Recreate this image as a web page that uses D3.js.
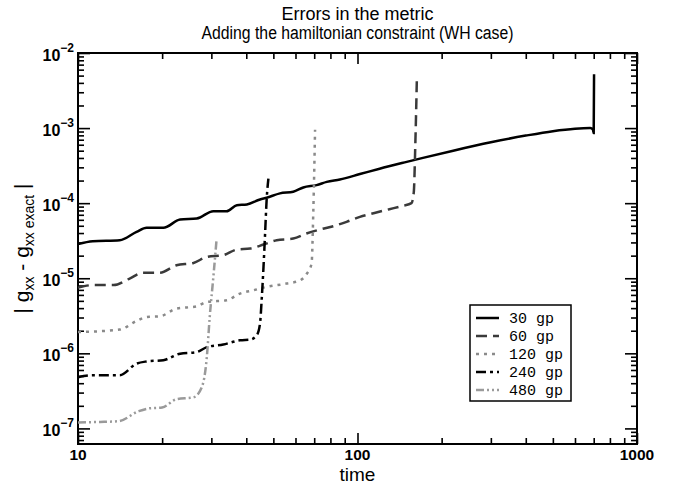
<!DOCTYPE html>
<html>
<head>
<meta charset="utf-8">
<script src="https://cdn.jsdelivr.net/npm/d3@7"></script>
<style>
  body { margin: 0; background: #fff; }
  svg { display: block; }
</style>
</head>
<body>
<svg id="chart" width="678" height="487"></svg>
<script>
// values (time, |g_xx - g_xx exact|)
var t30 = [10, 11.3, 14.1, 16.2, 17.6, 20.2, 23.2, 26.6, 30.5, 34.0, 37.0, 40.2, 44.8, 47.3, 52.8, 58.9, 64.0, 71.4, 77.6, 86.5, 102, 120, 150, 170, 220, 300, 400, 500, 600, 680, 695, 700, 702];
var e30 = [2.85e-5, 3.1e-5, 3.2e-5, 4.15e-5, 4.7e-5, 4.7e-5, 6.05e-5, 6.25e-5, 7.8e-5, 7.8e-5, 9.4e-5, 9.6e-5, 1.12e-4, 1.18e-4, 1.35e-4, 1.42e-4, 1.62e-4, 1.74e-4, 1.92e-4, 2.07e-4, 2.44e-4, 2.88e-4, 3.55e-4, 3.98e-4, 5.0e-4, 6.46e-4, 7.94e-4, 9.1e-4, 9.8e-4, 1.0e-3, 9.6e-4, 8.6e-4, 5.2e-3];

var t60 = [10, 11.3, 13.4, 15.3, 17.1, 19.6, 22.5, 25.9, 28.9, 33.1, 37.0, 41.3, 46.1, 51.4, 58.9, 65.7, 73.4, 81.9, 91.4, 102, 115, 130, 145, 156, 159, 161, 163];
var e60 = [7.5e-6, 8.1e-6, 8.1e-6, 9.9e-6, 1.18e-5, 1.18e-5, 1.49e-5, 1.6e-5, 1.92e-5, 2.03e-5, 2.41e-5, 2.49e-5, 2.81e-5, 3.21e-5, 3.38e-5, 3.94e-5, 4.46e-5, 4.93e-5, 5.64e-5, 6.57e-5, 7.4e-5, 8.3e-5, 9.2e-5, 1.0e-4, 1.4e-4, 6e-4, 4.2e-3];

var t120 = [10, 14.1, 16.2, 17.6, 19.6, 22.5, 26.6, 28.9, 34.0, 38.0, 42.5, 47.3, 55.8, 62, 65.7, 68.5, 69.5, 70.5];
var e120 = [1.92e-6, 2.07e-6, 2.7e-6, 3.05e-6, 3.11e-6, 3.94e-6, 4.23e-6, 4.83e-6, 5.09e-6, 6.25e-6, 6.92e-6, 7.66e-6, 8.5e-6, 9.3e-6, 1.13e-5, 1.57e-5, 8e-5, 9.5e-4];

var t240 = [10, 11.3, 14.1, 16.2, 17.6, 20.2, 23.2, 26.6, 28.9, 33.1, 38.0, 41.3, 43.6, 44.8, 45.4, 46.1, 46.7, 47.3, 48.0];
var e240 = [4.8e-7, 5.1e-7, 5.1e-7, 7.3e-7, 7.8e-7, 8.1e-7, 9.9e-7, 1.04e-6, 1.21e-6, 1.31e-6, 1.49e-6, 1.52e-6, 1.74e-6, 2.5e-6, 5.1e-6, 1.42e-5, 3.9e-5, 1.1e-4, 2.13e-4];

var t480 = [10, 12, 14, 16.5, 18, 20, 22.5, 25.9, 27.7, 28.9, 29.6, 30.5, 31.3];
var e480 = [1.2e-7, 1.22e-7, 1.25e-7, 1.7e-7, 1.85e-7, 1.9e-7, 2.45e-7, 2.6e-7, 3.5e-7, 8.9e-7, 3.05e-6, 1.04e-5, 3.21e-5];

var names = ["30 gp", "60 gp", "120 gp", "240 gp", "480 gp"];
var xLabels = [10, 100, 1000];
var yLabelExp = [-2, -3, -4, -5, -6, -7];

var svg = d3.select("#chart"),
  width = +svg.attr("width"),
  height = +svg.attr("height");

// plot box
var pL = 78, pR = 637, pT = 53, pB = 444;

var x = d3.scaleLog().domain([10, 1000]).range([pL, pR]);
var y = d3.scaleLog().domain([6.2e-8, 1e-2]).range([pB, pT]);

function isMajor(d) {
  var l = Math.log10(d);
  return Math.abs(l - Math.round(l)) < 1e-9;
}

// style of each series: stroke colour and dash pattern
var styles = [
  { color: "#000", dash: null },
  { color: "#3a3a3a", dash: "11,6" },
  { color: "#8a8a8a", dash: "3,5" },
  { color: "#000", dash: "10,4,3,4" },
  { color: "#9a9a9a", dash: "8,3,2,3,2,3" }
];

var series = [
  d3.zip(t30, e30),
  d3.zip(t60, e60),
  d3.zip(t120, e120),
  d3.zip(t240, e240),
  d3.zip(t480, e480)
];

// axes, ticks pointing inward
var xt = x.ticks(), yt = y.ticks();

svg.append("g").attr("transform", "translate(0," + pB + ")")
  .call(d3.axisBottom(x).tickValues(xt).tickFormat("").tickSizeOuter(0))
  .call(g => g.selectAll(".tick line").attr("y2", d => isMajor(d) ? -11 : -6));
svg.append("g").attr("transform", "translate(0," + pT + ")")
  .call(d3.axisTop(x).tickValues(xt).tickFormat("").tickSizeOuter(0))
  .call(g => g.selectAll(".tick line").attr("y2", d => isMajor(d) ? 11 : 6));
svg.append("g").attr("transform", "translate(" + pL + ",0)")
  .call(d3.axisLeft(y).tickValues(yt).tickFormat("").tickSizeOuter(0))
  .call(g => g.selectAll(".tick line").attr("x2", d => isMajor(d) ? 12 : 6));
svg.append("g").attr("transform", "translate(" + pR + ",0)")
  .call(d3.axisRight(y).tickValues(yt).tickFormat("").tickSizeOuter(0))
  .call(g => g.selectAll(".tick line").attr("x2", d => isMajor(d) ? -12 : -6));

svg.selectAll(".domain").remove();
svg.selectAll(".tick line").attr("stroke", "#000").attr("stroke-width", 1.6);

svg.append("rect")
  .attr("x", pL).attr("y", pT)
  .attr("width", pR - pL).attr("height", pB - pT)
  .attr("fill", "none").attr("stroke", "#000").attr("stroke-width", 2);

// tick labels
svg.selectAll(".xlab").data(xLabels).enter().append("text")
  .attr("x", d => x(d)).attr("y", pB + 16)
  .attr("text-anchor", "middle")
  .style("font", "bold 15.5px 'Liberation Sans', Arial, sans-serif")
  .text(d => d);

var yl = svg.selectAll(".ylab").data(yLabelExp).enter().append("text")
  .attr("x", pL - 4).attr("y", d => y(Math.pow(10, d)) + 8)
  .attr("text-anchor", "end")
  .style("font", "bold 16px 'Liberation Sans', Arial, sans-serif");
yl.append("tspan").text("10");
yl.append("tspan").attr("dy", -9).style("font-size", "12px").text(d => "\u2212" + (-d));

// curves
var line = d3.line()
  .x(d => x(d[0]))
  .y(d => y(d[1]))
  .curve(d3.curveMonotoneX);

svg.selectAll(".curve").data(series).enter().append("path")
  .attr("d", line)
  .attr("fill", "none")
  .attr("stroke", (d, i) => styles[i].color)
  .attr("stroke-dasharray", (d, i) => styles[i].dash)
  .attr("stroke-width", 2.5);

// titles
svg.append("text").attr("x", (pL + pR) / 2).attr("y", 20)
  .attr("text-anchor", "middle")
  .style("font", "18px 'Liberation Sans', Arial, sans-serif")
  .text("Errors in the metric");
svg.append("text").attr("x", (pL + pR) / 2).attr("y", 39)
  .attr("text-anchor", "middle")
  .style("font", "18px 'Liberation Sans', Arial, sans-serif")
  .attr("textLength", 312).attr("lengthAdjust", "spacingAndGlyphs")
  .text("Adding the hamiltonian constraint (WH case)");

svg.append("text").attr("x", (pL + pR) / 2).attr("y", 481)
  .attr("text-anchor", "middle")
  .style("font", "19px 'Liberation Sans', Arial, sans-serif")
  .text("time");

var yt2 = svg.append("text")
  .attr("transform", "translate(29," + ((pT + pB) / 2) + ") rotate(-90)")
  .attr("text-anchor", "middle")
  .style("font", "21px 'Liberation Sans', Arial, sans-serif");
yt2.append("tspan").text("| g");
yt2.append("tspan").attr("dy", 5).style("font-size", "14px").text("xx");
yt2.append("tspan").attr("dy", -5).text(" - g");
yt2.append("tspan").attr("dy", 5).style("font-size", "14px").text("xx exact");
yt2.append("tspan").attr("dy", -5).text("  |");

// legend
var lg = svg.append("g");
lg.append("rect")
  .attr("x", 470).attr("y", 305).attr("width", 101).attr("height", 96)
  .attr("fill", "#fff").attr("stroke", "#000").attr("stroke-width", 1.5);
var items = lg.selectAll(".item").data(names).enter().append("g")
  .attr("transform", (d, i) => "translate(0," + (318 + i * 18) + ")");
items.append("line")
  .attr("x1", 476).attr("x2", 499)
  .attr("stroke", (d, i) => styles[i].color)
  .attr("stroke-dasharray", (d, i) => styles[i].dash)
  .attr("stroke-width", 2.5);
items.append("text")
  .attr("x", 509).attr("y", 5)
  .style("font", "15px 'Liberation Mono', 'Courier New', monospace")
  .text(d => d);
</script>
</body>
</html>
